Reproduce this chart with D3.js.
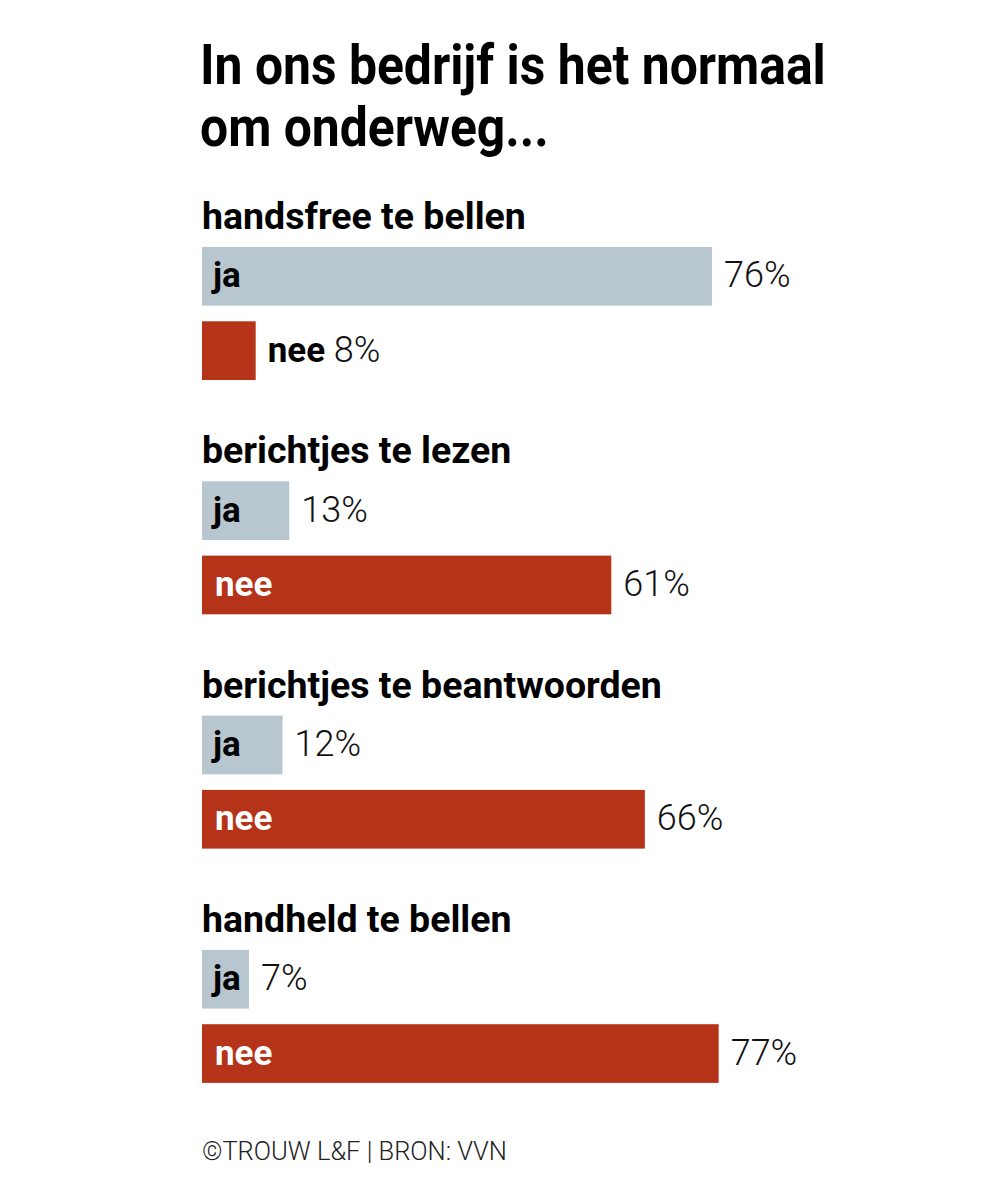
<!DOCTYPE html>
<html>
<head>
<meta charset="utf-8">
<script src="https://cdn.jsdelivr.net/npm/d3@7"></script>
<style>
  body { margin: 0; background: #fff; }
  svg { display: block; }
</style>
</head>
<body>
<svg id="chart" width="1000" height="1200"></svg>
<script>
// data
var titleLines = ["In ons bedrijf is het normaal", "om onderweg..."];
var categories = ["handsfree te bellen", "berichtjes te lezen", "berichtjes te beantwoorden", "handheld te bellen"];
var answers = ["ja", "nee"];
var jaValues = [76, 13, 12, 7];
var neeValues = [8, 61, 66, 77];
var footer = "\u00A9TROUW L&F | BRON: VVN";

var colors = { ja: "#b8c6cf", nee: "#b53319" };

var svg = d3.select("svg#chart");
var font = "Roboto, 'Noto Sans', sans-serif";

var x = d3.scaleLinear().domain([0, 100]).range([202, 873]);
var yGroup = d3.scaleBand().domain(categories).range([247, 247 + 4 * 234.3]);
var yBar = d3.scaleBand().domain(answers).range([0, 133]).paddingInner(0.21);

var rows = categories.map(function(c, i) {
    return { cat: c, ja: jaValues[i], nee: neeValues[i] };
});

// title, squeezed a bit to look like the condensed original
svg.append("g")
    .attr("transform", "translate(200,0) scale(0.89,1)")
    .selectAll("text.title").data(titleLines).enter()
    .append("text")
    .attr("class", "title")
    .attr("x", 0)
    .attr("y", function(d, i) { return 84 + i * 62; })
    .attr("font-family", font)
    .attr("font-weight", 700)
    .attr("font-size", 56)
    .attr("fill", "#000")
    .text(function(d) { return d; });

var groups = svg.selectAll("g.group").data(rows).enter()
    .append("g")
    .attr("class", "group")
    .attr("transform", function(d) { return "translate(0," + yGroup(d.cat) + ")"; });

groups.append("text")
    .attr("class", "cat")
    .attr("x", 202)
    .attr("y", -18)
    .attr("font-family", font)
    .attr("font-weight", 700)
    .attr("font-size", 37.5)
    .attr("fill", "#000")
    .text(function(d) { return d.cat; });

var bars = groups.selectAll("g.bar")
    .data(function(d) {
        return answers.map(function(a) { return { key: a, value: d[a] }; });
    })
    .enter()
    .append("g")
    .attr("class", "bar")
    .attr("transform", function(d) { return "translate(0," + yBar(d.key) + ")"; });

bars.append("rect")
    .attr("x", x(0))
    .attr("y", 0)
    .attr("width", function(d) { return x(d.value) - x(0); })
    .attr("height", yBar.bandwidth())
    .attr("fill", function(d) { return colors[d.key]; });

// small bars get their label outside (only the 8% nee one)
function labelInside(d) {
    var need = d.key == "ja" ? 40 : 70;
    return x(d.value) - x(0) > need;
}

bars.filter(labelInside).append("text")
    .attr("class", "lab")
    .attr("x", function(d) { return d.key == "ja" ? 213 : 215; })
    .attr("y", yBar.bandwidth() / 2 + 11)
    .attr("font-family", font)
    .attr("font-weight", 700)
    .attr("font-size", 35)
    .attr("fill", function(d) { return d.key == "ja" ? "#000" : "#fff"; })
    .text(function(d) { return d.key; });

var val = bars.append("text")
    .attr("class", "val")
    .attr("x", function(d) { return x(d.value) + 12; })
    .attr("y", yBar.bandwidth() / 2 + 11)
    .attr("font-family", font)
    .attr("font-size", 36)
    .attr("fill", "#111");

val.filter(function(d) { return !labelInside(d); })
    .append("tspan")
    .attr("font-weight", 700)
    .attr("font-size", 35)
    .attr("fill", "#000")
    .text(function(d) { return d.key + " "; });

val.append("tspan")
    .attr("font-weight", 300)
    .text(function(d) { return d.value + "%"; });

svg.append("text")
    .attr("x", 202)
    .attr("y", 1160)
    .attr("font-family", font)
    .attr("font-weight", 300)
    .attr("font-size", 25.5)
    .attr("fill", "#222")
    .text(footer);
</script>
</body>
</html>
